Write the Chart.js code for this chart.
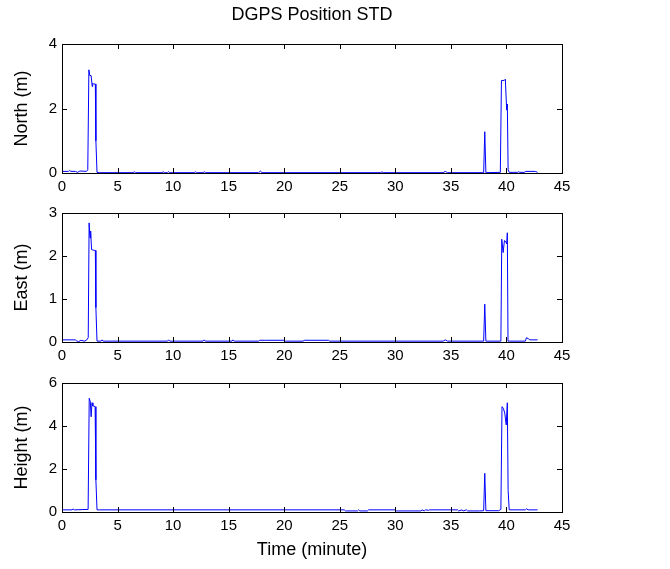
<!DOCTYPE html>
<html>
<head>
<meta charset="utf-8">
<title>DGPS Position STD</title>
<script src="https://cdn.jsdelivr.net/npm/chart.js@4.4.1/dist/chart.umd.min.js"></script>
<style>
  html, body { margin: 0; padding: 0; background: #fff; }
  #wrap { position: relative; width: 670px; height: 569px; overflow: hidden; }
  canvas { position: absolute; left: 0; }
</style>
</head>
<body>
<div id="wrap">
  <canvas id="north" width="670" height="203" style="top:0px"></canvas>
  <canvas id="east" width="670" height="175" style="top:197px"></canvas>
  <canvas id="height" width="670" height="202" style="top:367px"></canvas>
</div>
<script>
'use strict';

// time axis (minutes) and std values
const timeNorth = [0, 0.6, 0.7, 0.8, 1.2, 1.4, 1.6, 1.8, 2.2, 2.32,
  2.42, 2.5, 2.62, 2.72, 2.76, 2.85, 3.0, 3.05, 3.15, 3.4,
  6.4, 6.5, 6.6, 9.0, 9.1, 9.2, 9.5, 9.6, 9.7, 11.9,
  12.0, 12.1, 12.7, 12.8, 12.9, 17.7, 17.85, 18.0, 28.7, 28.8,
  28.9, 34.3, 34.5, 34.7, 37.95, 38.05, 38.15, 39.45, 39.55, 39.8,
  39.9, 40.02, 40.08, 40.15, 40.25, 40.6, 41.0, 41.1, 41.2, 41.6,
  41.75, 42.6, 42.8];
const northStd = [0.05, 0.05, 0.08, 0.05, 0.05, 0.02, 0.06, 0.06, 0.05, 0.1,
  3.2, 3.02, 3.02, 2.68, 2.78, 2.76, 2.76, 1.0, 0.02, 0.01,
  0.01, 0.04, 0.01, 0.01, 0.04, 0.01, 0.01, 0.04, 0.01, 0.01,
  0.04, 0.01, 0.01, 0.04, 0.01, 0.01, 0.06, 0.01, 0.01, 0.04,
  0.01, 0.01, 0.05, 0.01, 0.01, 1.28, 0.01, 0.02, 2.87, 2.87,
  2.91, 1.95, 2.14, 0.1, 0.02, 0.02, 0.02, 0.04, 0.02, 0.02,
  0.05, 0.05, 0.02];

const timeEast = [0, 1.2, 1.3, 1.5, 1.7, 2.0, 2.2, 2.36, 2.44, 2.52,
  2.58, 2.66, 2.9, 3.0, 3.05, 3.15, 3.5, 3.6, 3.7, 9.5,
  9.6, 9.7, 12.7, 12.8, 12.9, 15.3, 15.4, 15.5, 17.7, 17.8,
  18.3, 20.0, 20.1, 21.7, 21.8, 24.0, 24.1, 34.3, 34.5, 34.7,
  37.95, 38.05, 38.15, 39.5, 39.58, 39.7, 39.82, 39.95, 40.02, 40.08,
  40.14, 40.25, 41.7, 41.8, 41.95, 42.1, 42.8];
const eastStd = [0.05, 0.05, 0.03, 0.01, 0.04, 0.02, 0.04, 0.1, 2.77, 2.42,
  2.58, 2.15, 2.13, 2.13, 0.8, 0.02, 0.02, 0.05, 0.02, 0.02,
  0.05, 0.02, 0.02, 0.05, 0.02, 0.02, 0.05, 0.02, 0.02, 0.04,
  0.04, 0.04, 0.02, 0.02, 0.04, 0.04, 0.02, 0.02, 0.05, 0.02,
  0.02, 0.88, 0.02, 0.02, 2.39, 2.08, 2.36, 2.33, 2.28, 2.54,
  0.02, 0.02, 0.02, 0.1, 0.08, 0.05, 0.05];

const timeHeight = [0, 0.9, 1.0, 1.1, 2.35, 2.45, 2.55, 2.62, 2.7, 2.78,
  2.86, 2.98, 3.05, 3.15, 3.4, 25.4, 25.5, 26.6, 26.7, 26.8,
  27.5, 27.6, 30.0, 30.1, 32.3, 32.4, 32.6, 32.7, 33.0, 33.1,
  35.6, 35.7, 36.0, 36.1, 36.4, 36.5, 37.6, 37.95, 38.05, 38.15,
  39.3, 39.5, 39.6, 39.72, 39.85, 39.98, 40.08, 40.15, 40.25, 41.7,
  41.8, 41.95, 42.8];
const heightStd = [0.1, 0.1, 0.14, 0.1, 0.12, 5.29, 5.13, 4.43, 5.08, 4.93,
  4.93, 4.9, 1.5, 0.1, 0.1, 0.1, 0.05, 0.05, 0.1, 0.05,
  0.05, 0.1, 0.1, 0.05, 0.05, 0.1, 0.05, 0.1, 0.08, 0.1,
  0.1, 0.05, 0.1, 0.05, 0.1, 0.05, 0.05, 0.06, 1.8, 0.06,
  0.06, 0.12, 4.9, 4.82, 4.6, 4.05, 5.08, 1.0, 0.1, 0.1,
  0.15, 0.1, 0.1];

// tick settings
const xTickStep = 5;
const xMax = 45;
const northTicks = { max: 4, step: 2 };
const eastTicks = { max: 3, step: 1 };
const heightTicks = { max: 6, step: 2 };

const lineColor = '#0000ff';
const fontFamily = 'Arial, "Liberation Sans", Helvetica, sans-serif';

Chart.defaults.font.family = fontFamily;
Chart.defaults.color = '#000';
Chart.defaults.animation = false;

// matlab style box with inward ticks on all four sides
const boxPlugin = {
  id: 'matlabBox',
  afterDraw(chart) {
    const { ctx, chartArea: a, scales: { x, y } } = chart;
    const len = 5;
    ctx.save();
    ctx.strokeStyle = '#000';
    ctx.lineWidth = 1;
    ctx.beginPath();
    x.ticks.forEach(t => {
      const px = Math.round(x.getPixelForValue(t.value)) + 0.5;
      ctx.moveTo(px, a.bottom); ctx.lineTo(px, a.bottom - len);
      ctx.moveTo(px, a.top); ctx.lineTo(px, a.top + len);
    });
    y.ticks.forEach(t => {
      const py = Math.round(y.getPixelForValue(t.value)) + 0.5;
      ctx.moveTo(a.left, py); ctx.lineTo(a.left + len, py);
      ctx.moveTo(a.right, py); ctx.lineTo(a.right - len, py);
    });
    ctx.stroke();
    ctx.strokeRect(Math.round(a.left) + 0.5, Math.round(a.top) + 0.5,
      Math.round(a.width), Math.round(a.height));
    ctx.restore();
  }
};

// figure title centred over the plot area, like matlab's title()
const plotTitlePlugin = {
  id: 'plotTitle',
  afterDraw(chart, args, opts) {
    if (!opts.text) return;
    const { ctx, chartArea: a } = chart;
    ctx.save();
    ctx.fillStyle = '#000';
    ctx.font = '18px ' + fontFamily;
    ctx.textAlign = 'center';
    ctx.textBaseline = 'middle';
    ctx.fillText(opts.text, (a.left + a.right) / 2, opts.y);
    ctx.restore();
  }
};

function toPoints(times, values) {
  return times.map((t, i) => ({ x: t, y: values[i] }));
}

function makeChart(id, times, values, yTicks, yLabel, extra) {
  const ctx = document.getElementById(id).getContext('2d');
  return new Chart(ctx, {
    type: 'line',
    data: {
      datasets: [{
        data: toPoints(times, values),
        borderColor: lineColor,
        borderWidth: 1,
        pointRadius: 0,
        tension: 0,
        fill: false
      }]
    },
    options: {
      responsive: false,
      devicePixelRatio: 1,
      layout: { padding: { top: extra.padTop, right: 108, left: 0, bottom: 0 } },
      plugins: {
        legend: { display: false },
        tooltip: { enabled: false },
        title: { display: false },
        plotTitle: { text: extra.title || '', y: 15 }
      },
      scales: {
        x: {
          type: 'linear',
          min: 0,
          max: xMax,
          grid: { display: false, drawTicks: false },
          border: { display: false },
          ticks: { stepSize: xTickStep, font: { size: 15 }, padding: 5, maxRotation: 0 },
          title: extra.xTitle ? {
            display: true,
            text: extra.xTitle,
            font: { size: 18 },
            padding: { top: 0, bottom: 8 }
          } : { display: false },
          afterFit: s => { s.height = extra.xHeight; }
        },
        y: {
          min: 0,
          max: yTicks.max,
          grid: { display: false, drawTicks: false },
          border: { display: false },
          ticks: { stepSize: yTicks.step, font: { size: 15 }, padding: 5 },
          title: {
            display: true,
            text: yLabel,
            font: { size: 18 },
            padding: { top: 11, bottom: 0 }
          },
          afterFit: s => { s.width = 62; }
        }
      }
    },
    plugins: [boxPlugin, plotTitlePlugin]
  });
}

function renderCharts() {
  makeChart('north', timeNorth, northStd, northTicks, 'North (m)',
    { title: 'DGPS Position STD', padTop: 44, xHeight: 30 });
  makeChart('east', timeEast, eastStd, eastTicks, 'East (m)',
    { padTop: 16, xHeight: 30 });
  makeChart('height', timeHeight, heightStd, heightTicks, 'Height (m)',
    { padTop: 16, xHeight: 57, xTitle: 'Time (minute)' });
}

document.addEventListener('DOMContentLoaded', renderCharts);
</script>
</body>
</html>
